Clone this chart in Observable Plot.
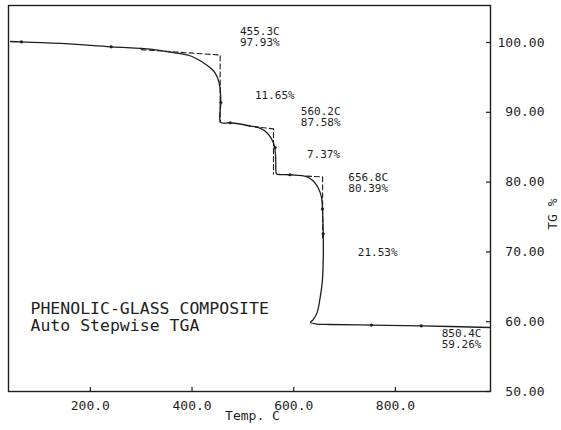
<!DOCTYPE html>
<html>
<head>
<meta charset="utf-8">
<script src="https://cdn.jsdelivr.net/npm/d3@7"></script>
<script src="https://cdn.jsdelivr.net/npm/@observablehq/plot@0.6"></script>
<style>
  html, body { margin: 0; padding: 0; background: #fff; }
  #chart svg { display: block; }
</style>
</head>
<body>
<div id="chart"></div>
<script>
// TGA curve: [temperature °C, weight %]
const curveTemp = [43, 64.5, 141, 241, 318, 351, 377, 396, 416, 430, 442, 450, 455, 456.5, 456.5, 475, 514, 533.6, 546.8, 556.6, 562, 564.5, 565.5, 567, 592.5, 625, 638, 648, 654.7, 656.5, 658, 658, 656, 651.4, 646, 638, 633, 644.7, 671, 752.8, 851, 985];
const curveTG   = [100.14, 100.1, 99.86, 99.38, 99.05, 98.7, 98.4, 98.1, 97.38, 96.7, 95.95, 95.0, 93.55, 91.4, 88.55, 88.5, 88.06, 87.74, 87.1, 86.16, 85.2, 83.5, 81.3, 81.15, 81.05, 80.8, 80.2, 79.2, 77.8, 76.15, 72.6, 68.7, 65.6, 63.2, 61.3, 60.27, 59.9, 59.66, 59.6, 59.51, 59.41, 59.17];

// sample markers on the curve
const markTemp = [64.5, 241, 456.5, 475, 563.5, 592.5, 656.5, 658, 752.8, 851];
const markTG   = [100.1, 99.38, 91.4, 88.5, 84.96, 81.05, 76.15, 72.6, 59.51, 59.41];

// step construction (dashed) lines
const stepId   = [1, 1, 1, 2, 2, 2, 3, 3, 3];
const stepTemp = [300, 455.3, 455.3, 505, 560.2, 560.2, 625, 656.8, 656.8];
const stepTG   = [98.98, 98.2, 88.55, 88.1, 87.62, 81.15, 80.85, 80.75, 72.0];

// annotations
const annText   = ["455.3C\n97.93%", "11.65%", "560.2C\n87.58%", "7.37%", "656.8C\n80.39%", "21.53%"];
const annTemp   = [494.3, 523.8, 614, 625.9, 707.3, 726];
const annTG     = [100.75, 92.37, 89.28, 83.9, 79.9, 69.87];
const endText   = ["850.4C\n59.26%"];
const endTemp   = [969.3];
const endTG     = [57.55];
const titleText = ["PHENOLIC-GLASS COMPOSITE\nAuto Stepwise TGA"];
const titleTemp = [82.2];
const titleTG   = [60.63];

const xTicks = [200, 400, 600, 800];
const yTicks = [50, 60, 70, 80, 90, 100];
const xLabel = "Temp. C";
const yLabel = "TG %";

const curve = curveTemp.map((t, i) => ({t, w: curveTG[i]}));
const marks = markTemp.map((t, i) => ({t, w: markTG[i]}));
const steps = stepTemp.map((t, i) => ({id: stepId[i], t, w: stepTG[i]}));
const ann = annText.map((s, i) => ({s, t: annTemp[i], w: annTG[i]}));
const endAnn = endText.map((s, i) => ({s, t: endTemp[i], w: endTG[i]}));
const title = titleText.map((s, i) => ({s, t: titleTemp[i], w: titleTG[i]}));

const ink = "#1e1e1e";
const mono = "DejaVu Sans Mono";
const W = 561, H = 430, mL = 8, mR = 71, mT = 5, mB = 39;
const frameW = W - mL - mR, frameH = H - mT - mB;

const chart = Plot.plot({
  width: W, height: H,
  marginLeft: mL, marginRight: mR, marginTop: mT, marginBottom: mB,
  style: {fontFamily: mono, background: "#fff", color: ink},
  x: {domain: [39, 987]},
  y: {domain: [50, 105.3]},
  marks: [
    // inward tick marks
    Plot.tickX(xTicks, {x: d => d, stroke: ink, strokeWidth: 1.2, insetTop: frameH - 4}),
    Plot.tickY(yTicks, {y: d => d, stroke: ink, strokeWidth: 1.2, insetLeft: frameW - 4}),
    Plot.axisX({ticks: xTicks, tickFormat: d => d.toFixed(1), tickSize: 0, tickPadding: 9, fontSize: 13, fontFamily: mono, label: null}),
    Plot.axisY({anchor: "right", ticks: yTicks, tickFormat: d => d.toFixed(2), tickSize: 0, tickPadding: 54, textAnchor: "end", fontSize: 13, fontFamily: mono, label: null}),
    Plot.text([xLabel], {frameAnchor: "bottom", dy: 28, dx: 3, fontSize: 13, fontFamily: mono, fill: ink}),
    Plot.text([yLabel], {frameAnchor: "right", dx: 62, rotate: -90, fontSize: 13, fontFamily: mono, fill: ink}),
    Plot.frame({stroke: ink, strokeWidth: 1.4}),
    Plot.line(steps, {x: "t", y: "w", z: "id", stroke: ink, strokeWidth: 1.1, strokeDasharray: "5,3"}),
    Plot.line(curve, {x: "t", y: "w", stroke: ink, strokeWidth: 1.3, curve: "catmull-rom"}),
    Plot.dot(marks, {x: "t", y: "w", r: 1.6, fill: ink}),
    Plot.text(ann, {x: "t", y: "w", text: "s", textAnchor: "start", lineAnchor: "middle", lineHeight: 1.0, fontSize: 11, fontFamily: mono, fill: ink}),
    Plot.text(endAnn, {x: "t", y: "w", text: "s", textAnchor: "end", lineAnchor: "middle", lineHeight: 1.0, fontSize: 11, fontFamily: mono, fill: ink}),
    Plot.text(title, {x: "t", y: "w", text: "s", textAnchor: "start", lineAnchor: "middle", lineHeight: 1.03, fontSize: 16.5, fontFamily: mono, fill: ink})
  ]
});
document.getElementById("chart").appendChild(chart);
</script>
</body>
</html>
